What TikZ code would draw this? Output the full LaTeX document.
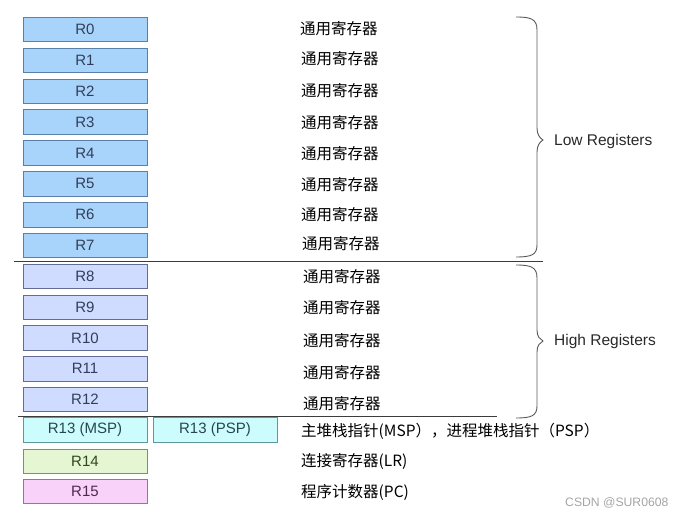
\documentclass[tikz,border=0pt]{standalone}
\usepackage{fontspec}
\setmainfont{Liberation Sans}
\newfontfamily\cjk{Noto Sans CJK SC}
\definecolor{lowfill}{RGB}{168,212,252}
\definecolor{lowdraw}{RGB}{88,128,168}
\definecolor{highfill}{RGB}{208,220,255}
\definecolor{highdraw}{RGB}{100,108,150}
\definecolor{spfill}{RGB}{204,252,252}
\definecolor{spdraw}{RGB}{96,150,158}
\definecolor{lrfill}{RGB}{228,246,210}
\definecolor{lrdraw}{RGB}{120,150,100}
\definecolor{pcfill}{RGB}{248,210,248}
\definecolor{pcdraw}{RGB}{160,110,160}
\definecolor{regtext}{RGB}{50,62,88}
\definecolor{linecol}{RGB}{60,60,60}
\begin{document}
\begin{tikzpicture}[x=1pt,y=-1pt,
  reg/.style={draw, line width=0.8pt, minimum width=124pt, minimum height=24.5pt, inner sep=0pt,
    font=\fontsize{15}{15}\selectfont, text=regtext},
  lowreg/.style={reg, fill=lowfill, draw=lowdraw},
  highreg/.style={reg, fill=highfill, draw=highdraw},
  spreg/.style={reg, fill=spfill, draw=spdraw, text={rgb,255:red,40;green,70;blue,80}},
  lrreg/.style={reg, fill=lrfill, draw=lrdraw, text={rgb,255:red,50;green,70;blue,30}},
  pcreg/.style={reg, fill=pcfill, draw=pcdraw, text={rgb,255:red,80;green,40;blue,80}},
  desc/.style={anchor=west, inner sep=0pt, font=\cjk\fontsize{15.5}{15.5}\selectfont, text=black},
  grp/.style={anchor=west, inner sep=0pt, font=\fontsize{15.5}{15.5}\selectfont, text={rgb,255:red,40;green,40;blue,40}},
  sep/.style={draw=linecol, line width=0.9pt},
  brc/.style={draw={rgb,255:red,90;green,90;blue,90}, line width=0.9pt}
]
\useasboundingbox (0,0) rectangle (684,518);
% low registers
\foreach \i/\dx/\dy in {0/300/29,1/301/59,2/301/91,3/301/123,4/301/154,5/301/185,6/301/215,7/302/244}{
  \node[lowreg] (r\i) at (85,{29.5+\i*30.86}) {R\i};
  \node[desc] (d\i) at (\dx,\dy) {通用寄存器};
}
% high registers
\foreach \i/\dx/\dy in {8/303/277,9/303/308,10/303/341,11/303/373,12/303/404}{
  \node[highreg] (r\i) at (85,{276.5+(\i-8)*30.75}) {R\i};
  \node[desc] (d\i) at (\dx,\dy) {通用寄存器};
}
\node[spreg] (r13) at (85,430) {R13 (MSP)};
\node[spreg] (r13b) at (215,430) {R13 (PSP)};
\node[lrreg] (r14) at (85,461.5) {R14};
\node[pcreg] (r15) at (85,491.5) {R15};
\node[desc] (d13) at (301,431) {主堆栈指针(MSP），进程堆栈指针（PSP）};
\node[desc] (d14) at (301,461) {连接寄存器(LR)};
\node[desc] (d15) at (301,492) {程序计数器(PC)};
% separators
\coordinate (s1a) at (14,261); \coordinate (s1b) at (543,261);
\coordinate (s2a) at (18,416); \coordinate (s2b) at (497,416);
\draw[sep] (s1a) -- (s1b);
\draw[sep] (s2a) -- (s2b);
% braces
\draw[brc] (516,17) .. controls (531,17) and (537,19) .. (537,30) -- (537,128)
  .. controls (537,135) and (540,138) .. (543,140)
  .. controls (540,142) and (537,145) .. (537,152) -- (537,245)
  .. controls (537,255) and (531,257) .. (516,257);
\draw[brc] (516,265) .. controls (531,265) and (537,267) .. (537,278) -- (537,330)
  .. controls (537,337) and (540,339) .. (543,341)
  .. controls (540,343) and (537,345) .. (537,352) -- (537,406)
  .. controls (537,416) and (531,418) .. (516,418);
\node[grp] (low) at (554,141) {Low Registers};
\node[grp] (high) at (554,341) {High Registers};
\node[anchor=west, inner sep=0pt, font=\fontsize{12.2}{12.2}\selectfont, text={rgb,255:red,165;green,165;blue,165}] (wm) at (565,503) {CSDN @SUR0608};
\end{tikzpicture}
\end{document}
